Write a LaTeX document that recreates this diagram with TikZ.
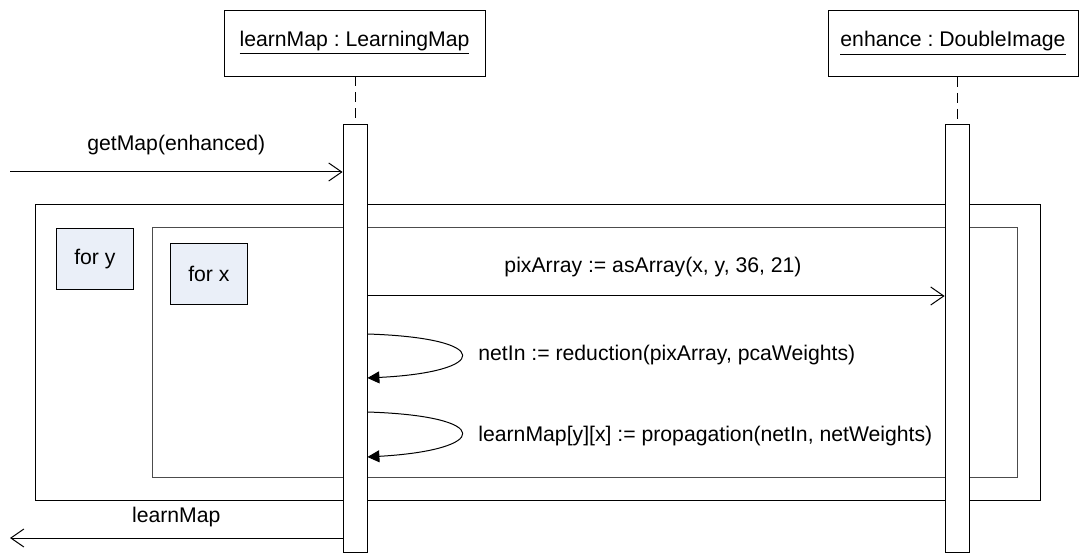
\documentclass[tikz,border=0pt]{standalone}
\usepackage{fontspec}
\setmainfont{Liberation Sans}
\usepackage{xcolor}
\usetikzlibrary{arrows.meta,positioning,calc}

\definecolor{forfill}{RGB}{234,239,248}
\frenchspacing

\begin{document}
\begin{tikzpicture}[
    x=0.5pt, y=-0.5pt,
    font=\fontsize{10.6}{12.7}\selectfont,
    object/.style={rectangle, draw, fill=white, minimum width=130.5pt, minimum height=33pt, inner sep=0pt},
    activation/.style={rectangle, draw, fill=white, minimum width=12pt, minimum height=214pt, inner sep=0pt, anchor=north},
    lifeline/.style={dashed, dash pattern=on 5pt off 3pt},
    forbox/.style={rectangle, draw, fill=forfill, minimum width=38.5pt, minimum height=30.5pt, inner sep=0pt, anchor=north west},
    frame/.style={draw, line width=0.5pt},
    msg/.style={-{Straight Barb[length=6.5pt, width=9pt]}, line width=0.5pt},
    selfcall/.style={-{Triangle[length=6pt, width=6pt]}, line width=0.5pt},
    lbl/.style={inner sep=0pt}
]
\useasboundingbox (0,0) rectangle (1080,555);

% Objects
\node[object] (learnMap) at (354.5,43) {\underline{learnMap : LearningMap}};
\node[object, minimum width=125pt] (enhance) at (953,43.5) {\underline{enhance : DoubleImage}};

% Loop frames
\draw[frame] (35,205) rectangle (1040,500);
\draw[frame, draw=black!70] (152,228) rectangle (1017,477);
\node[forbox] (fory) at (56,228) {for y};
\node[forbox] (forx) at (170,243) {for x};

% Activations
\node[activation] (act1) at (355,124) {};
\node[activation] (act2) at (957,124) {};

% Lifelines
\draw[lifeline] (act1.north |- learnMap.south) -- (act1.north);
\draw[lifeline] (act2.north |- enhance.south) -- (act2.north);

% Messages
\coordinate (caller) at (10,172);
\draw[msg] (caller) -- (caller -| act1.west) node[lbl, midway, above=8.5pt] {getMap(enhanced)};

\coordinate (pix) at (367,296);
\draw[msg] (pix -| act1.east) -- (pix -| act2.west);
\node[lbl] (pixlbl) at (653,267) {pixArray := asArray(x, y, 36, 21)};

\coordinate (red) at (367,334);
\draw[selfcall] (red -| act1.east) .. controls (495,338) and (490,372) .. ($(red -| act1.east)+(0,44)$);
\node[lbl, anchor=west] (redlbl) at (478,355) {netIn := reduction(pixArray, pcaWeights)};

\coordinate (prop) at (367,412);
\draw[selfcall] (prop -| act1.east) .. controls (495,416) and (490,450) .. ($(prop -| act1.east)+(0,45)$);
\node[lbl, anchor=west] (proplbl) at (478,436) {learnMap[y][x] := propagation(netIn, netWeights)};

\coordinate (back) at (10,538);
\draw[msg] (back -| act1.west) -- (back) node[lbl, midway, above=5.5pt] {learnMap};

\end{tikzpicture}
\end{document}
